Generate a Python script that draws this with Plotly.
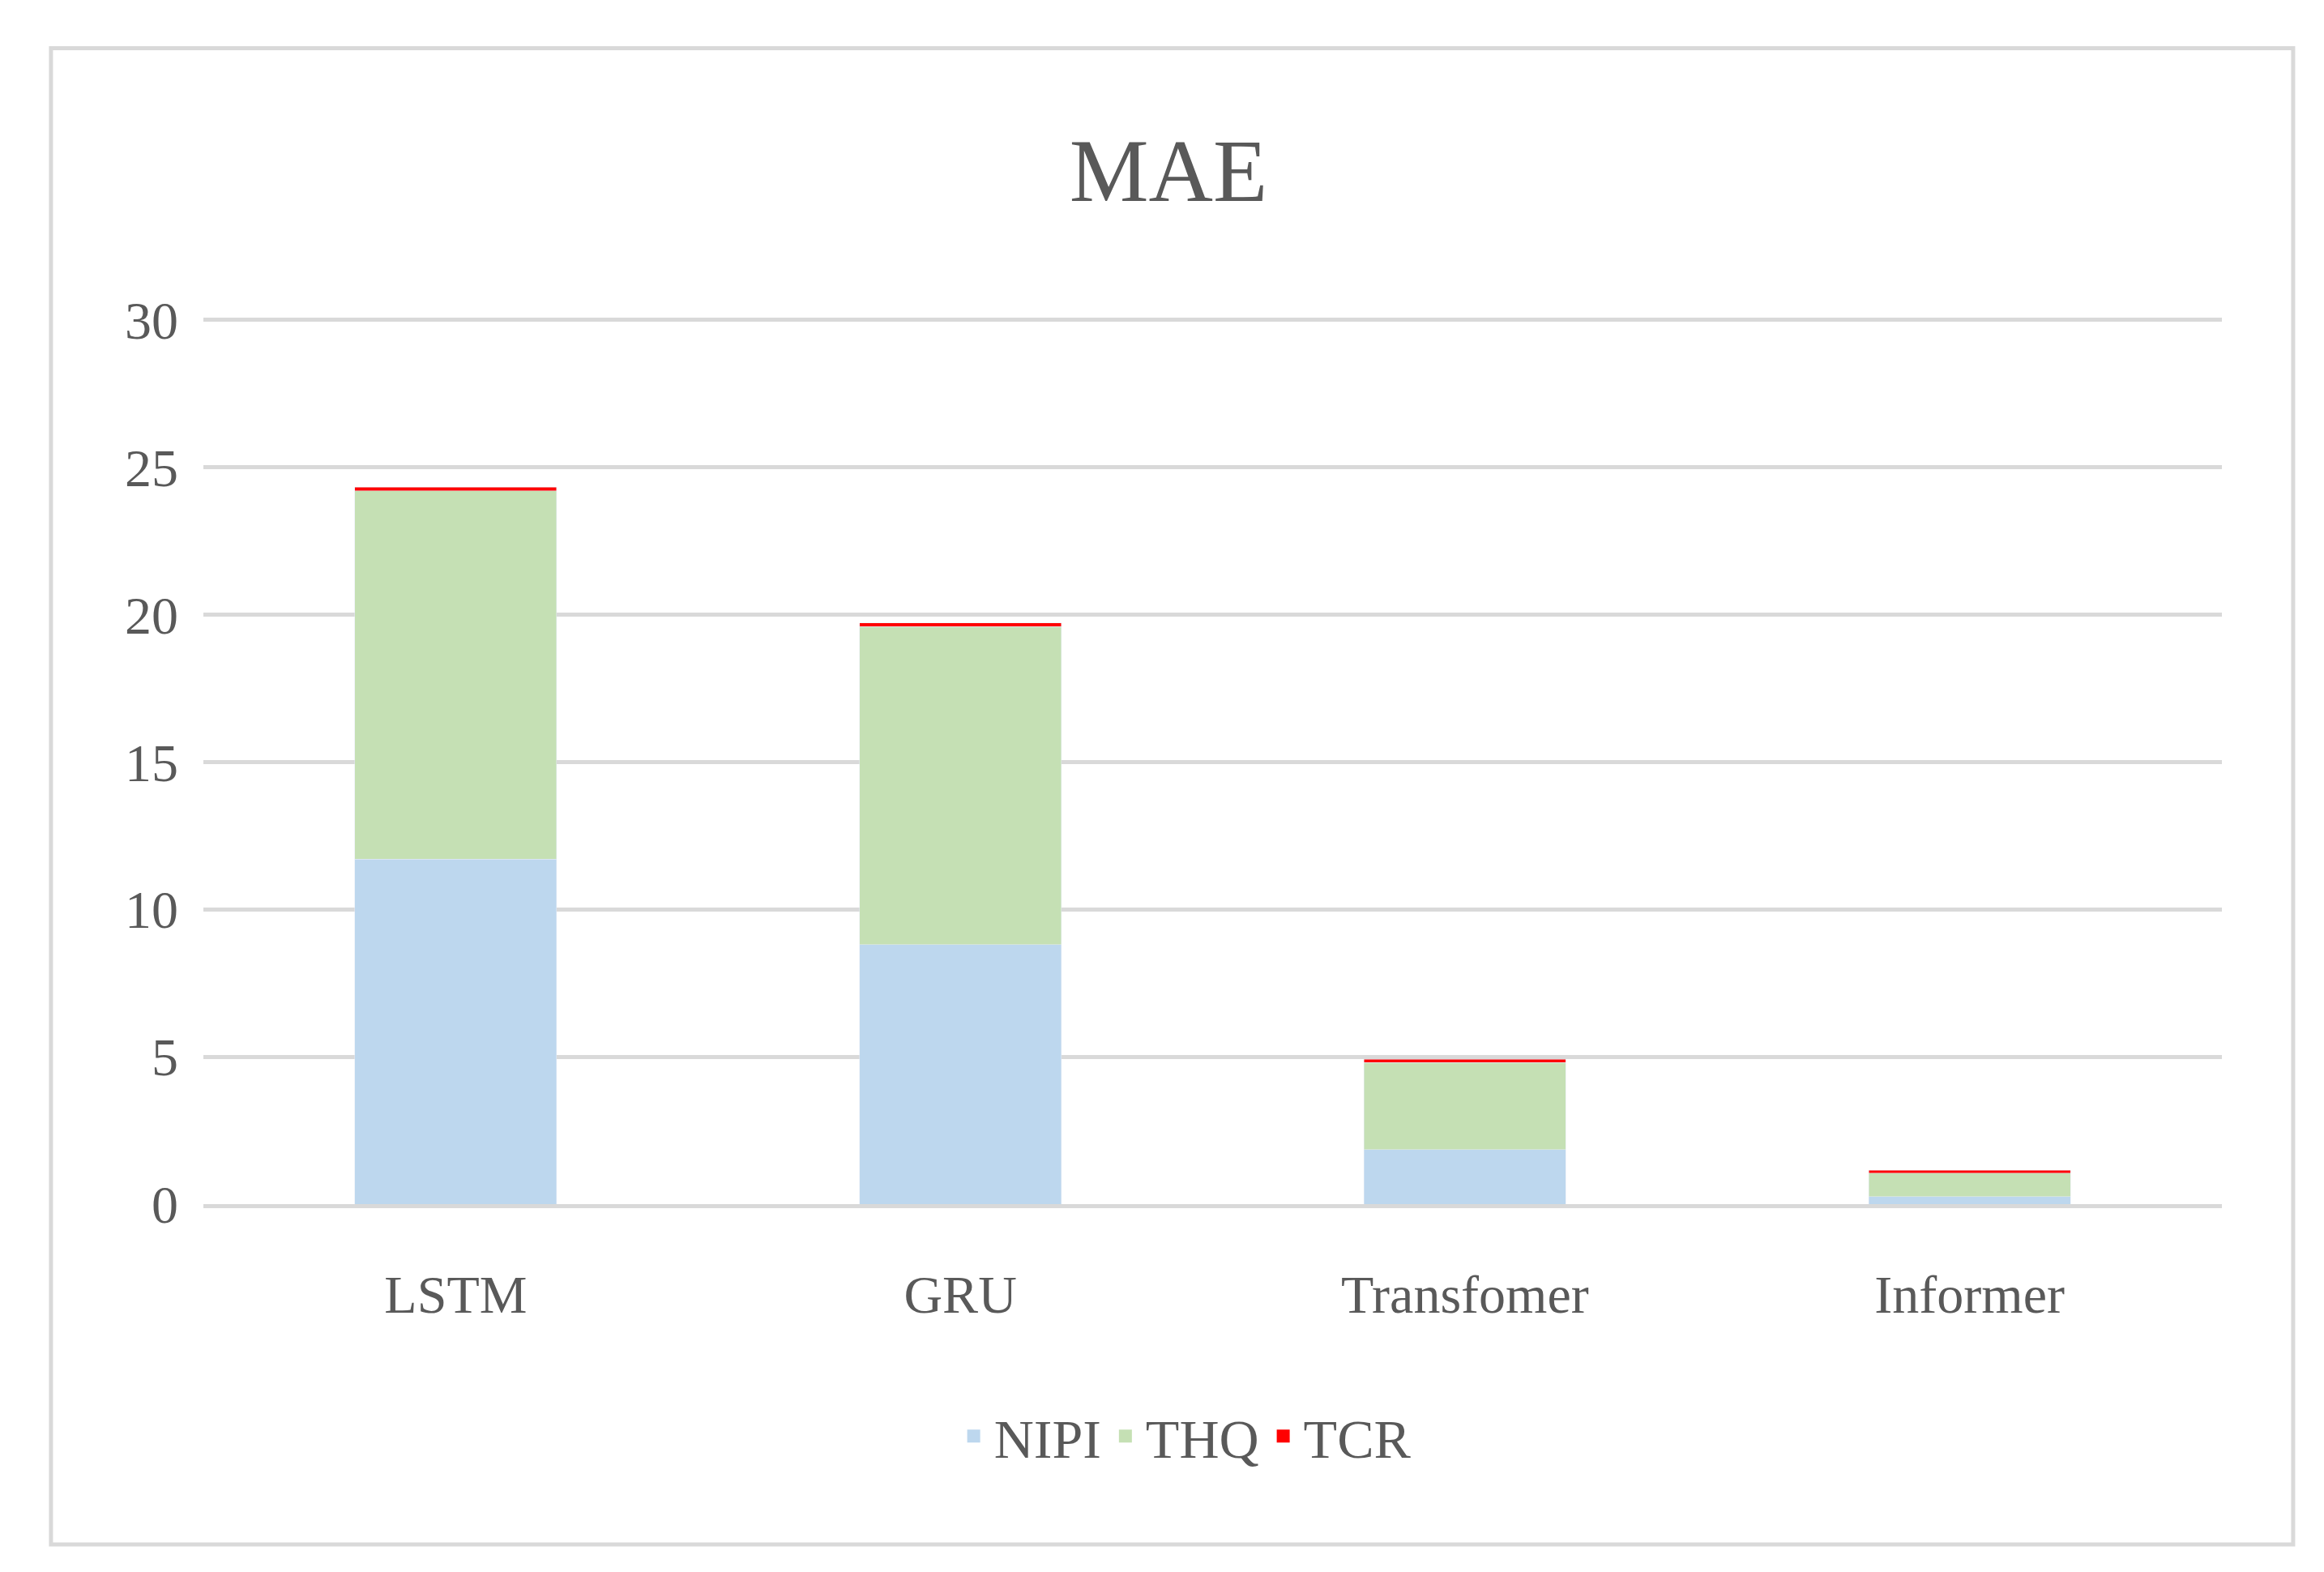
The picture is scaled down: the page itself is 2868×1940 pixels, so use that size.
import plotly.graph_objects as go

models = ["LSTM", "GRU", "Transfomer", "Informer"]
nipi = [11.7, 8.8, 1.85, 0.25]
thq = [12.5, 10.8, 2.95, 0.8]
tcr = [0.12, 0.12, 0.12, 0.1]
series = ["NIPI", "THQ", "TCR"]
colors = ["#bdd7ee", "#c5e0b4", "#ff0000"]

font = "Liberation Serif"
fig = go.Figure()
for name, vals, c in zip(series, [nipi, thq, tcr], colors):
    fig.add_trace(go.Bar(x=models, y=vals, name=name, marker_color=c, showlegend=False))
# legend entries with larger square swatches
for name, c in zip(series, colors):
    fig.add_trace(go.Scatter(x=[None], y=[None], mode="markers", name=name,
                             marker=dict(symbol="square", size=40, color=c)))

fig.update_layout(
    barmode="stack", bargap=0.6,
    width=2868, height=1940,
    margin=dict(l=243, r=134, t=384, b=462),
    paper_bgcolor="white", plot_bgcolor="white",
    font=dict(family=font, size=66, color="#595959"),
    title=dict(text="MAE", x=0.5, xanchor="center", y=0.896, yanchor="middle",
               font=dict(size=110, color="#595959", family=font)),
    legend=dict(orientation="h", x=0.486, xanchor="center", y=-0.262, yanchor="middle",
                font=dict(size=68), traceorder="normal", itemwidth=40),
    yaxis=dict(range=[0, 30.08], tickvals=[0, 5, 10, 15, 20, 25, 30], showgrid=True,
               gridcolor="#d9d9d9", gridwidth=5, zeroline=False, ticks="", ticklabelstandoff=30),
    xaxis=dict(showline=True, linecolor="#d9d9d9", linewidth=5, ticks="", ticklabelstandoff=50),
    shapes=[dict(type="rect", xref="paper", yref="paper", x0=-0.0755, x1=1.0353,
                 y0=-0.384, y1=1.304, line=dict(color="#d9d9d9", width=5))],
)
fig.write_html("out.html")
